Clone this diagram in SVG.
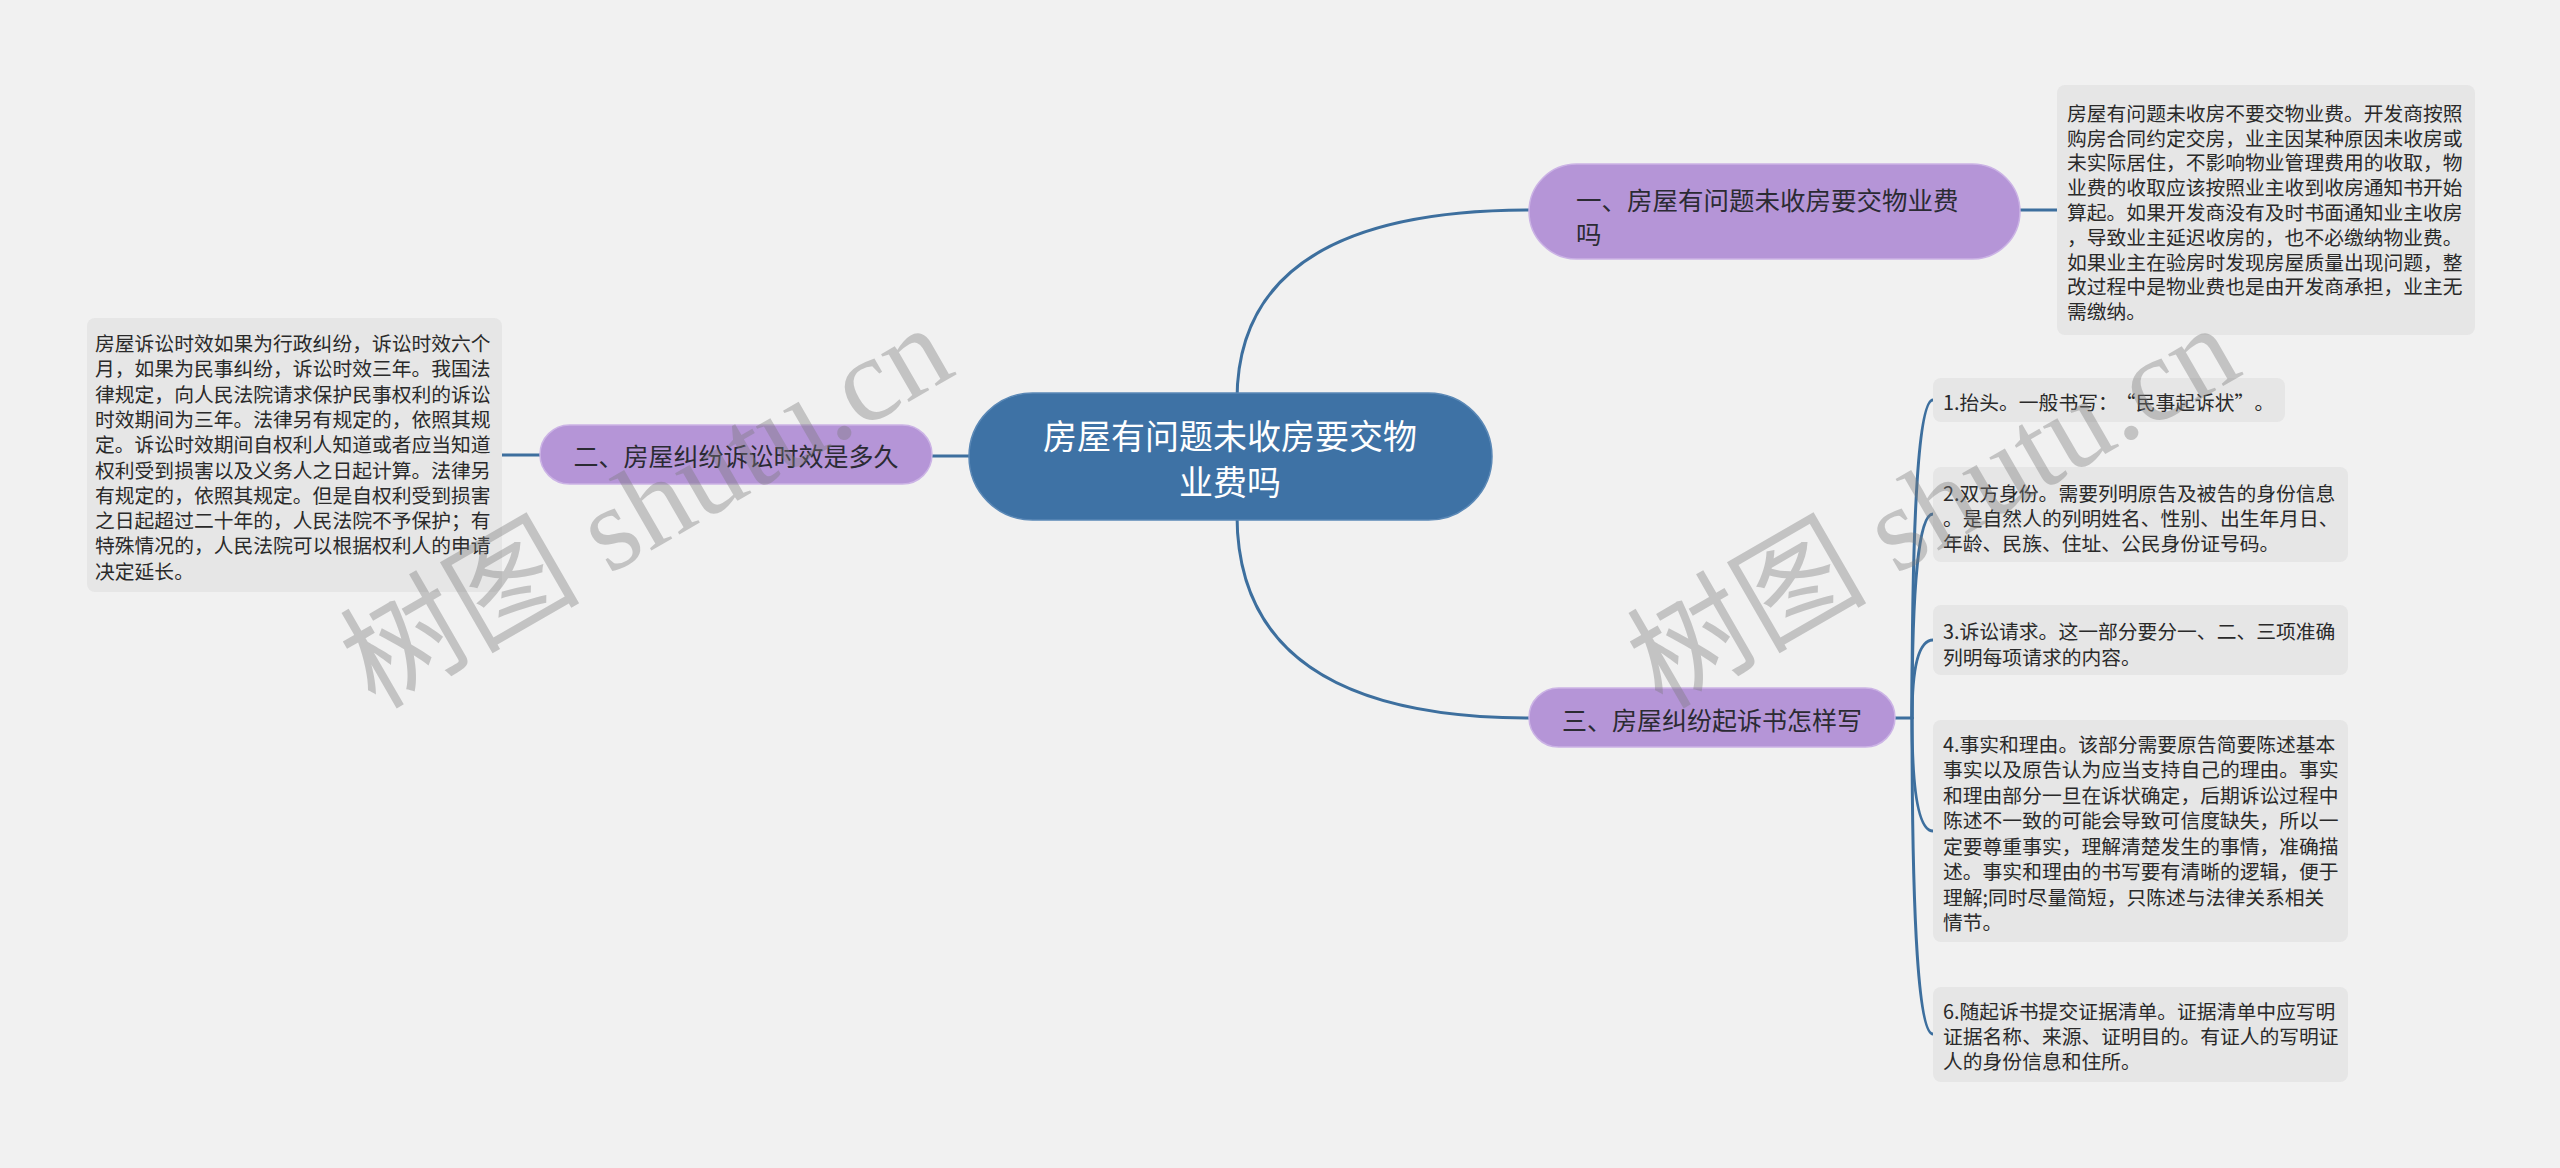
<svg xmlns="http://www.w3.org/2000/svg" width="2560" height="1168" viewBox="0 0 2560 1168">
<style>
.bg{fill:#f1f1f1}
.link{fill:none;stroke:#3d6f9e;stroke-width:3;stroke-linecap:round}
.root rect{fill:#3e72a5;stroke:#5a88b6;stroke-width:1.5}
.root text{fill:#ffffff;font-family:"Noto Sans CJK SC","Noto Sans",sans-serif;font-size:34px;text-anchor:middle;dominant-baseline:central}
.branch rect{fill:#b595d7;stroke:#cbb3e5;stroke-width:1.5}
.branch text{fill:#2b2b33;font-family:"Noto Sans CJK SC","Noto Sans",sans-serif;font-size:25px;dominant-baseline:central}
.leaf rect{fill:#e6e6e6}
.leaf text{fill:#2a2a2a;font-family:"Noto Sans CJK SC","Noto Sans",sans-serif;font-size:19.8px;dominant-baseline:central}
.wm{fill:#7a7a7a;opacity:0.38;font-family:"Liberation Serif","Noto Sans CJK SC",serif;font-size:120px}
</style>
<rect class="bg" x="0" y="0" width="2560" height="1168"/>

<g id="connectors">
  <path class="link" d="M1237 400 Q1237 210 1530 210"/>
  <path class="link" d="M1237 515 Q1237 718 1530 718"/>
  <path class="link" d="M932 456 L972 456"/>
  <path class="link" d="M2020 210 L2057 210"/>
  <path class="link" d="M502 455 L540 455"/>
  <path class="link" d="M1895 718 L1912 718"/>
  <path class="link" d="M1912 718 Q1912 400 1933 400"/>
  <path class="link" d="M1912 718 Q1912 514 1933 514"/>
  <path class="link" d="M1912 718 Q1912 640 1933 640"/>
  <path class="link" d="M1912 718 Q1912 831 1933 831"/>
  <path class="link" d="M1912 718 Q1912 1034 1933 1034"/>
</g>

<g id="root" class="root">
  <rect x="969" y="393" width="523" height="127" rx="63.5"/>
  <text x="1230" y="434">房屋有问题未收房要交物</text>
  <text x="1230" y="480">业费吗</text>
</g>

<g id="branch1" class="branch">
  <rect x="1529" y="164" width="491" height="95" rx="47.5"/>
  <text x="1576" y="198" style="font-size:25.5px">一、房屋有问题未收房要交物业费</text>
  <text x="1576" y="232" style="font-size:25.5px">吗</text>
</g>

<g id="branch2" class="branch">
  <rect x="540" y="425" width="392" height="59" rx="29.5"/>
  <text x="736" y="455" text-anchor="middle">二、房屋纠纷诉讼时效是多久</text>
</g>

<g id="branch3" class="branch">
  <rect x="1529" y="688" width="366" height="59" rx="29.5"/>
  <text x="1712" y="719" text-anchor="middle">三、房屋纠纷起诉书怎样写</text>
</g>

<g id="leaf1" class="leaf">
  <rect x="2057" y="85" width="418" height="250" rx="8"/>
  <text x="2067" y="112">房屋有问题未收房不要交物业费。开发商按照</text>
  <text x="2067" y="137">购房合同约定交房，业主因某种原因未收房或</text>
  <text x="2067" y="161">未实际居住，不影响物业管理费用的收取，物</text>
  <text x="2067" y="186">业费的收取应该按照业主收到收房通知书开始</text>
  <text x="2067" y="211">算起。如果开发商没有及时书面通知业主收房</text>
  <text x="2067" y="236">，导致业主延迟收房的，也不必缴纳物业费。</text>
  <text x="2067" y="261">如果业主在验房时发现房屋质量出现问题，整</text>
  <text x="2067" y="285">改过程中是物业费也是由开发商承担，业主无</text>
  <text x="2067" y="310">需缴纳。</text>
</g>

<g id="leaf2" class="leaf">
  <rect x="87" y="318" width="415" height="274" rx="8"/>
  <text x="95" y="342">房屋诉讼时效如果为行政纠纷，诉讼时效六个</text>
  <text x="95" y="367">月，如果为民事纠纷，诉讼时效三年。我国法</text>
  <text x="95" y="393">律规定，向人民法院请求保护民事权利的诉讼</text>
  <text x="95" y="418">时效期间为三年。法律另有规定的，依照其规</text>
  <text x="95" y="443">定。诉讼时效期间自权利人知道或者应当知道</text>
  <text x="95" y="469">权利受到损害以及义务人之日起计算。法律另</text>
  <text x="95" y="494">有规定的，依照其规定。但是自权利受到损害</text>
  <text x="95" y="519">之日起超过二十年的，人民法院不予保护；有</text>
  <text x="95" y="544">特殊情况的，人民法院可以根据权利人的申请</text>
  <text x="95" y="570">决定延长。</text>
</g>

<g id="leaf3" class="leaf">
  <rect x="1933" y="378" width="352" height="44" rx="8"/>
  <text x="1943" y="401">1.抬头。一般书写：<tspan dx="8">“</tspan>民事起诉状<tspan>”</tspan><tspan dx="10">。</tspan></text>
</g>

<g id="leaf4" class="leaf">
  <rect x="1933" y="467" width="415" height="95" rx="8"/>
  <text x="1943" y="492">2.双方身份。需要列明原告及被告的身份信息</text>
  <text x="1943" y="517">。是自然人的列明姓名、性别、出生年月日、</text>
  <text x="1943" y="542">年龄、民族、住址、公民身份证号码。</text>
</g>

<g id="leaf5" class="leaf">
  <rect x="1933" y="605" width="415" height="70" rx="8"/>
  <text x="1943" y="630">3.诉讼请求。这一部分要分一、二、三项准确</text>
  <text x="1943" y="656">列明每项请求的内容。</text>
</g>

<g id="leaf6" class="leaf">
  <rect x="1933" y="720" width="415" height="222" rx="8"/>
  <text x="1943" y="743">4.事实和理由。该部分需要原告简要陈述基本</text>
  <text x="1943" y="768">事实以及原告认为应当支持自己的理由。事实</text>
  <text x="1943" y="794">和理由部分一旦在诉状确定，后期诉讼过程中</text>
  <text x="1943" y="819">陈述不一致的可能会导致可信度缺失，所以一</text>
  <text x="1943" y="845">定要尊重事实，理解清楚发生的事情，准确描</text>
  <text x="1943" y="870">述。事实和理由的书写要有清晰的逻辑，便于</text>
  <text x="1943" y="896">理解;同时尽量简短，只陈述与法律关系相关</text>
  <text x="1943" y="921">情节。</text>
</g>

<g id="leaf7" class="leaf">
  <rect x="1933" y="987" width="415" height="95" rx="8"/>
  <text x="1943" y="1010">6.随起诉书提交证据清单。证据清单中应写明</text>
  <text x="1943" y="1035">证据名称、来源、证明目的。有证人的写明证</text>
  <text x="1943" y="1060">人的身份信息和住所。</text>
</g>

<g id="watermarks">
  <text class="wm" transform="translate(375 710) rotate(-30)">树图 shutu.cn</text>
  <text class="wm" transform="translate(1662 710) rotate(-30)">树图 shutu.cn</text>
</g>
</svg>
